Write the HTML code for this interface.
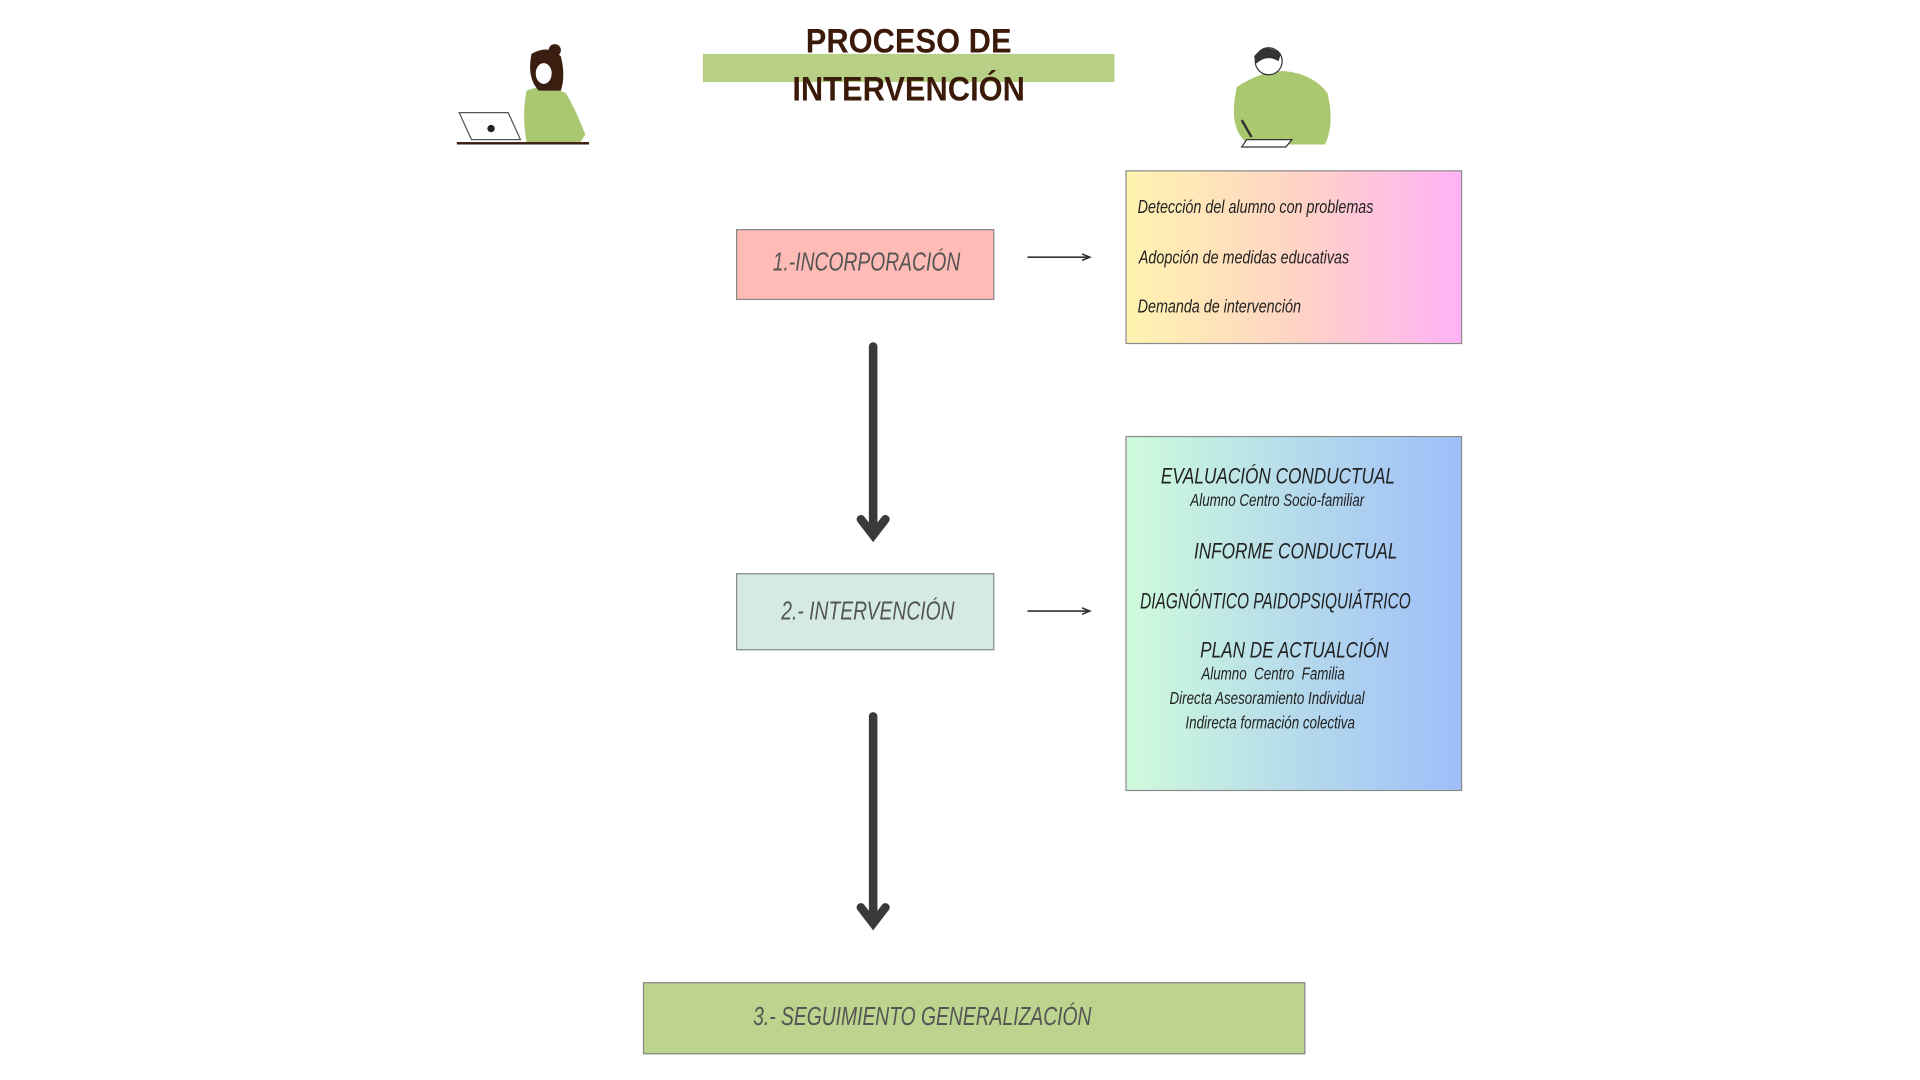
<!DOCTYPE html>
<html><head><meta charset="utf-8"><style>
html,body{margin:0;padding:0;background:#fff;width:1920px;height:1080px;overflow:hidden}
#w{position:absolute;left:0;top:0;width:1553px;height:874px;transform:scale(1.2246);transform-origin:0 0;font-family:"Liberation Sans",sans-serif}
.a{position:absolute}
.box{position:absolute;box-sizing:border-box;border:1px solid #8a8a8a}
.hw{position:absolute;white-space:nowrap;font-style:italic;color:#222;transform-origin:0 50%;transform:scaleX(0.78)}
.lbl{position:absolute;white-space:nowrap;color:#555;font-style:italic;font-size:21px;transform:scaleX(0.75);transform-origin:0 50%}
</style></head><body><div id="w">
<div class="a" style="left:574px;top:44px;width:336px;height:23px;background:#b7d086"></div>
<div class="a" style="left:574px;top:14px;width:336px;text-align:center;font-weight:bold;font-size:28px;color:#3b1a0a;line-height:39px;transform:scaleX(0.9)">PROCESO DE<br>INTERVENCIÓN</div>

<svg class="a" style="left:370px;top:34px" width="115" height="88" viewBox="0 0 115 88">
<path d="M60 40 Q75 34 92 42 Q100 55 108 76 L104 82 L60 82 Q56 60 60 40Z" fill="#a9c86f"/>
<path d="M64 10 Q78 2 88 12 Q92 28 88 40 L70 40 Q60 30 64 10Z" fill="#3a1e10"/>
<circle cx="83" cy="7" r="5" fill="#3a1e10"/>
<ellipse cx="74" cy="26" rx="7" ry="9" fill="#fff" stroke="#3a1e10"/>
<path d="M5 58 L45 58 L55 80 L15 80Z" fill="#fff" stroke="#555"/>
<circle cx="31" cy="71" r="3" fill="#222"/>
<rect x="3" y="82" width="108" height="2" fill="#3a1e10"/>
</svg>
<svg class="a" style="left:1000px;top:36px" width="92" height="90" viewBox="0 0 92 90">
<path d="M10 35 Q30 22 48 22 Q72 24 84 40 Q90 65 82 82 L20 82 Q2 70 10 35Z" fill="#a9c86f"/>
<circle cx="36" cy="14" r="11" fill="#fff" stroke="#333"/>
<path d="M24 10 Q34 -2 46 8 L44 14 Q34 8 26 16Z" fill="#333"/>
<path d="M18 78 L55 78 L50 84 L14 84Z" fill="#fff" stroke="#333"/>
<path d="M14 62 L22 76" stroke="#333" stroke-width="2"/>
</svg>

<div class="box" style="left:601px;top:187px;width:211px;height:58px;background:#ffbbb5"></div>
<div class="lbl" style="left:631px;top:203px">1.-INCORPORACIÓN</div>
<div class="box" style="left:601px;top:468px;width:211px;height:63px;background:#d4eae3"></div>
<div class="lbl" style="left:638px;top:488px">2.- INTERVENCIÓN</div>
<div class="box" style="left:525px;top:802px;width:541px;height:59px;background:#bdd48e"></div>
<div class="lbl" style="left:615px;top:819px">3.- SEGUIMIENTO GENERALIZACIÓN</div>

<svg class="a" style="left:0;top:0" width="1553" height="874">
<defs><marker id="m" markerWidth="6" markerHeight="6" refX="5" refY="3" orient="auto"><path d="M0 1 L5 3 L0 5" fill="none" stroke="#333" stroke-width="1"/></marker></defs>
<line x1="839" y1="210" x2="890" y2="210" stroke="#333" stroke-width="1.3" marker-end="url(#m)"/>
<line x1="839" y1="499" x2="890" y2="499" stroke="#333" stroke-width="1.3" marker-end="url(#m)"/>
<g stroke="#3a3a3a" stroke-width="7" fill="none" stroke-linecap="round">
<line x1="713" y1="283" x2="713" y2="436"/><path d="M703 424 L713 437 L723 424"/>
<line x1="713" y1="585" x2="713" y2="753"/><path d="M703 741 L713 754 L723 741"/>
</g>
</svg>

<div class="box" style="left:919px;top:139px;width:275px;height:142px;background:linear-gradient(90deg,#fff4b0,#ffd4c4 50%,#ffb2f6)"></div>
<div class="hw" style="left:929px;top:161px;font-size:15px">Detección del alumno con problemas</div>
<div class="hw" style="left:930px;top:202px;font-size:15px">Adopción de medidas educativas</div>
<div class="hw" style="left:929px;top:242px;font-size:15px">Demanda de intervención</div>

<div class="box" style="left:919px;top:356px;width:275px;height:290px;background:linear-gradient(90deg,#cffbdc,#b3d8ec 55%,#9fbefa)"></div>
<div class="hw" style="left:948px;top:379px;font-size:18px">EVALUACIÓN CONDUCTUAL</div>
<div class="hw" style="left:972px;top:400px;font-size:14px">Alumno Centro Socio-familiar</div>
<div class="hw" style="left:975px;top:440px;font-size:18px">INFORME CONDUCTUAL</div>
<div class="hw" style="left:931px;top:481px;font-size:18px;transform:scaleX(0.7)">DIAGNÓNTICO PAIDOPSIQUIÁTRICO</div>
<div class="hw" style="left:980px;top:521px;font-size:18px">PLAN DE ACTUALCIÓN</div>
<div class="hw" style="left:981px;top:542px;font-size:14px">Alumno &nbsp;Centro &nbsp;Familia</div>
<div class="hw" style="left:955px;top:562px;font-size:14px">Directa Asesoramiento Individual</div>
<div class="hw" style="left:968px;top:582px;font-size:14px">Indirecta formación colectiva</div>
</div></body></html>
